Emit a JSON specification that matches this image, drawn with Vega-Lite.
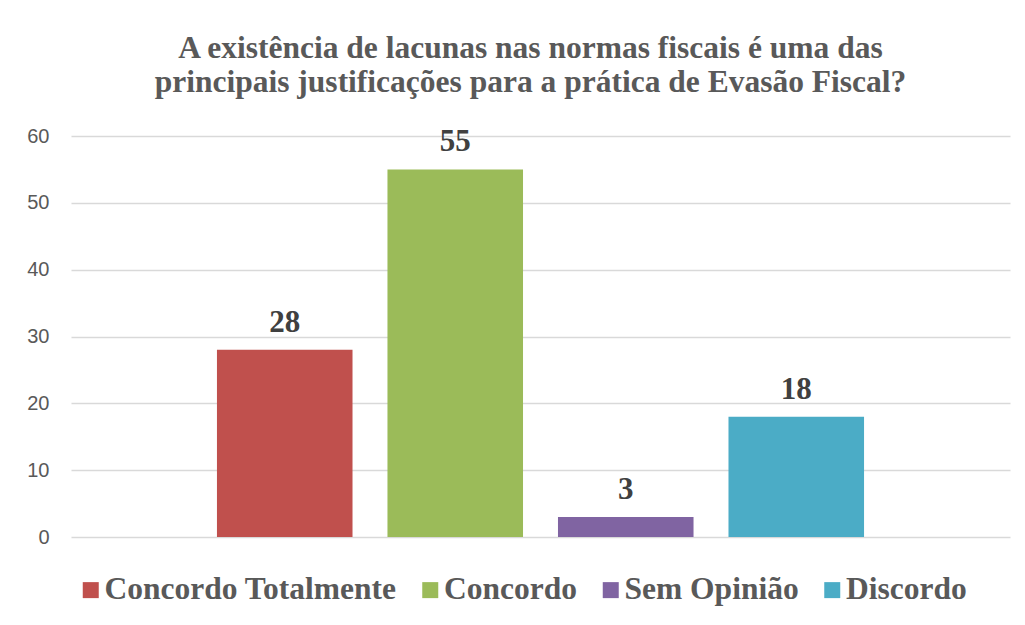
{
  "$schema": "https://vega.github.io/schema/vega-lite/v6.json",
  "autosize": {"type": "none"},
  "width": 939,
  "height": 401,
  "padding": {"left": 71, "top": 136, "right": 15, "bottom": 88},
  "background": "white",
  "config": {"view": {"stroke": null}},
  "title": {
    "text": ["A existência de lacunas nas normas fiscais é uma das", "principais justificações para a prática de Evasão Fiscal?"],
    "font": "Liberation Serif",
    "fontSize": 31.5,
    "fontWeight": "bold",
    "color": "#595959",
    "lineHeight": 34,
    "anchor": "middle",
    "dx": -10,
    "offset": 28
  },
  "data": {
    "values": [
      {"resposta": "Concordo Totalmente", "valor": 28},
      {"resposta": "Concordo", "valor": 55},
      {"resposta": "Sem Opinião", "valor": 3},
      {"resposta": "Discordo", "valor": 18}
    ]
  },
  "encoding": {
    "x": {
      "field": "resposta",
      "type": "nominal",
      "sort": ["Concordo Totalmente", "Concordo", "Sem Opinião", "Discordo"],
      "scale": {"paddingInner": 0.205, "paddingOuter": 0.856},
      "axis": null
    },
    "y": {
      "field": "valor",
      "type": "quantitative",
      "scale": {"domain": [0, 60], "nice": false},
      "axis": {
        "values": [0, 10, 20, 30, 40, 50, 60],
        "title": null,
        "domain": false,
        "ticks": false,
        "labelFont": "Liberation Sans",
        "labelFontSize": 20,
        "labelColor": "#595959",
        "labelPadding": 22,
        "gridColor": "#D9D9D9",
        "gridWidth": 1.3
      }
    }
  },
  "layer": [
    {
      "mark": {"type": "bar"},
      "encoding": {
        "color": {
          "field": "resposta",
          "type": "nominal",
          "sort": ["Concordo Totalmente", "Concordo", "Sem Opinião", "Discordo"],
          "scale": {
            "domain": ["Concordo Totalmente", "Concordo", "Sem Opinião", "Discordo"],
            "range": ["#C0504D", "#9BBB59", "#8064A2", "#4BACC6"]
          },
          "legend": {
            "title": null,
            "orient": "none",
            "direction": "horizontal",
            "legendX": 4,
            "legendY": 438,
            "symbolType": "square",
            "symbolSize": 256,
            "symbolStrokeWidth": 0,
            "labelFont": "Liberation Serif",
            "labelFontSize": 31.5,
            "labelFontWeight": "bold",
            "labelColor": "#595959",
            "labelOffset": -2,
            "columnPadding": 17.5,
            "labelLimit": 500
          }
        }
      }
    },
    {
      "mark": {
        "type": "text",
        "font": "Liberation Serif",
        "fontSize": 31,
        "fontWeight": "bold",
        "color": "#404040",
        "baseline": "alphabetic",
        "dy": -18
      },
      "encoding": {
        "text": {"field": "valor", "type": "quantitative"}
      }
    }
  ]
}
